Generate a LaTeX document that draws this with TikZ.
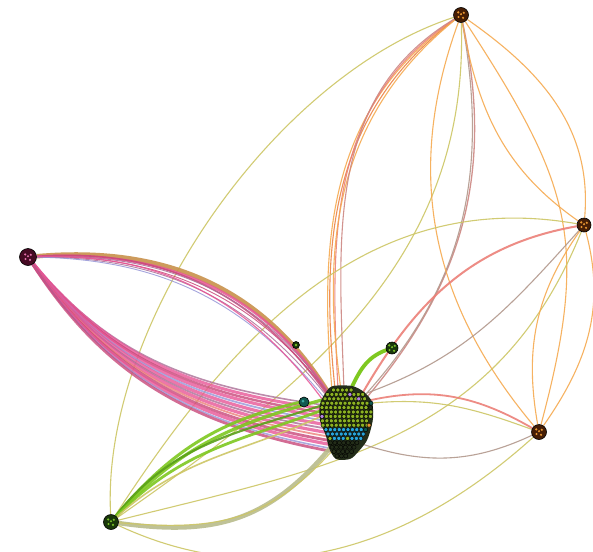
\documentclass[tikz,border=0pt]{standalone}
\pgfdeclarelayer{bg}
\pgfsetlayers{bg,main}
\definecolor{cOlive}{RGB}{205,198,100}
\definecolor{cOrange}{RGB}{246,170,80}
\definecolor{cOrangeD}{RGB}{236,132,70}
\definecolor{cSalmon}{RGB}{236,128,120}
\definecolor{cRose}{RGB}{205,135,130}
\definecolor{cGrayBr}{RGB}{178,152,140}
\definecolor{cPinkH}{RGB}{232,85,150}
\definecolor{cPinkD}{RGB}{200,72,122}
\definecolor{cMauve}{RGB}{170,110,150}
\definecolor{cLav}{RGB}{150,150,215}
\definecolor{cTan}{RGB}{200,145,75}
\definecolor{cGreen}{RGB}{126,200,32}
\definecolor{cGreenD}{RGB}{90,160,25}
\definecolor{cKhaki}{RGB}{185,188,140}
\definecolor{hubBrown}{RGB}{70,30,5}
\definecolor{hubMaroon}{RGB}{70,10,35}
\definecolor{hubGreen}{RGB}{25,55,10}
\definecolor{hubTeal}{RGB}{15,90,80}
\definecolor{dotO}{RGB}{232,150,50}
\definecolor{dotP}{RGB}{225,110,170}
\definecolor{dotG}{RGB}{120,190,40}
\definecolor{dotT}{RGB}{60,170,160}
\definecolor{cellG}{RGB}{140,178,35}
\definecolor{cellB}{RGB}{40,165,220}
\definecolor{cellK}{RGB}{35,45,25}
\definecolor{cellP}{RGB}{180,130,225}
\begin{document}
\begin{tikzpicture}[x=1pt,y=-1pt,
  edg/.style={line width=1.1pt,opacity=0.9},
  hub/.style={circle,draw=black,line width=0.6pt,minimum size=15pt,inner sep=0pt,fill=#1}]
\useasboundingbox (0,0) rectangle (593,551);
% hub nodes
\node[hub=hubBrown] (T) at (461,15) {};
\node[hub=hubBrown,minimum size=14pt] (R) at (584,225) {};
\node[hub=hubBrown] (LR) at (539,432) {};
\node[hub=hubMaroon,minimum size=17pt] (L) at (28,257) {};
\node[hub=hubGreen] (BL) at (111,522) {};
\node[hub=hubGreen,minimum size=12pt] (S1) at (392,348) {};
\node[hub=hubGreen,minimum size=7pt] (S2) at (296,345) {};
\node[hub=hubTeal,minimum size=10pt] (S3) at (304,402) {};
\foreach \n/\c in {T/dotO,R/dotO,LR/dotO,L/dotP,BL/dotG,S1/dotG}{
  \foreach \dx/\dy in {-2.5/-2,2/-2.8,0/0.8,-2.8/2.6,2.8/2.2}
    \fill[\c] ([shift={(\dx pt,\dy pt)}]\n.center) circle (1.2pt);
}
\fill[dotT] ([shift={(-1pt,1pt)}]S3.center) circle (1.5pt);
\fill[dotG] (S2.center) circle (1.4pt);
% cluster attachment points
\coordinate (ct1) at (332,390); \coordinate (ct2) at (335,389);
\coordinate (ct3) at (338,389); \coordinate (ct4) at (341,390);
\coordinate (ct5) at (344,390);
\coordinate (ctr) at (368,396); \coordinate (ctr2) at (366,394);
\coordinate (cr1) at (362,394); \coordinate (cr2) at (367,393);
\coordinate (ce1) at (371,400); \coordinate (ce2) at (372,403);
\coordinate (ce3) at (362,444);
\coordinate (cs) at (350,391);
\coordinate (ck) at (331,447); \coordinate (ck2) at (333,450);
\coordinate (cu1) at (328,392); \coordinate (cu2) at (330,395);
\coordinate (cu3) at (331,397); \coordinate (cu4) at (329,399);
\coordinate (cu5) at (327,401); \coordinate (cu6) at (325,403);
\coordinate (cu7) at (329,394); \coordinate (cu8) at (328,396);
\coordinate (cg1) at (306,401); \coordinate (cg2) at (322,400);
\coordinate (cg3) at (323,405); \coordinate (cg4) at (323,410);
\coordinate (cg5) at (324,415);
\foreach \i/\yy in {1/405,2/409,3/413,4/417,5/421,6/425,7/429,8/433,9/437,10/441,11/445,12/449,13/452}{
  \pgfmathsetmacro\xq{322+(\yy-400)*0.25}
  \coordinate (cl\i) at (\xq,\yy);
}
% cluster
\fill[cellK] plot[smooth cycle] coordinates {(333,386) (352,386) (364,392) (372,402) (373,418) (370,432) (366,442) (358,452) (350,459) (336,459) (329,448) (326,436) (320,420) (320,404) (326,392)};
\foreach \yy/\xa/\n/\cc in {390/333.5/4/cellG, 394.4/327.5/8/cellG, 398.8/325/9/cellG,
  403.2/323/10/cellG, 407.6/322/11/cellG, 412/322.5/11/cellG, 416.4/322/11/cellG,
  420.8/322.5/10/cellG, 425.2/323/10/cellG, 429.6/326/9/cellB, 434/328/8/cellB,
  438.4/330/7/cellB, 442.8/330.5/6/cellK, 447.2/332/5/cellK, 451.6/334/4/cellK, 456/337/2/cellK}{
  \foreach \k in {0,...,\n}{
    \pgfmathsetmacro\xx{\xa+4.4*\k}
    \filldraw[fill=\cc,draw=black,line width=0.4pt] (\xx,\yy) circle (2.05pt);
  }
}
\foreach \px/\py/\cc in {349.9/394.4/cellP,358.7/398.8/cellP,322/416.4/cellP,
  370.4/407.6/cellK,371/403.2/hubTeal,365.6/429.6/hubTeal,330/438.4/cellG,347.6/438.4/cellG,369/425.2/dotO}{
  \filldraw[fill=\cc,draw=black,line width=0.4pt] (\px,\py) circle (2.05pt);
}
\begin{pgfonlayer}{bg}
\fill[white] (0,0) rectangle (593,551);
% edges from T
\draw[edg,cOlive] (T) to[out=198,in=93,looseness=0.8] (BL);
\draw[edg,cOlive] (T) to[out=-88,in=35] (BL);
\foreach \o/\ia/\c/\p in {-145/95/cOrange/ct1,-143/96/cOrangeD/ct2,-147/93/cSalmon/ct3,-141/98/cOrange/ct4,-149/92/cRose/ct5}
  \draw[edg,\c] (T) to[out=\o,in=\ia] (\p);
\draw[edg,cRose,line width=1.3pt] (T) to[out=-78,in=50] (ctr);
\draw[edg,cGrayBr] (T) to[out=-80,in=48] (ctr2);
\draw[edg,cOrange] (T) to[out=250,in=130] (LR);
\draw[edg,cOrange] (T) to[out=-57,in=75,looseness=1.2] (LR);
\draw[edg,cOrange] (T) to[out=-35,in=85] (R);
\draw[edg,cOrange] (T) to[out=-80,in=145] (R);
% edges from R
\draw[edg,cOlive] (R) to[out=170,in=57] (BL);
\draw[edg,cOlive] (R) to[out=248,in=14,looseness=1.05] (BL);
\draw[edg,cSalmon,line width=2pt] (R) to[out=190,in=60] (cr1);
\draw[edg,cGrayBr] (R) to[out=228,in=20] (cr2);
\draw[edg,cOrange] (R) to[out=235,in=100] (LR);
\draw[edg,cOrange] (R) to[out=-75,in=55] (LR);
% bottom
\draw[edg,cOlive] (BL) to[out=-25,in=222] (LR);
\draw[edg,cOlive] (ce2) to[out=5,in=160] (LR);
\draw[edg,cSalmon,line width=1.8pt] (ce1) to[out=12,in=150] (LR);
\draw[edg,cGrayBr] (ce3) to[out=-18,in=205] (LR);
% L bundle
\draw[cTan,line width=4.5pt,opacity=0.9] (L) to[out=5,in=122] (cu1);
\foreach \o/\ia/\c/\p/\w in {3/123/cPinkH/cu7/2.4,4/125/cPinkD/cu8/1.6,2/125/cMauve/cu2/0.9,1/127/cPinkD/cu3/0.9,
  0/128/cMauve/cu4/0.9,-1/129/cLav/cu5/0.9,2/126/cPinkH/cu6/1.2}
  \draw[\c,line width=\w pt,opacity=0.85] (L) to[out=\o,in=\ia] (\p);
\foreach \i/\c/\w in {1/cMauve/1.6,2/cPinkH/3,3/cPinkD/2.4,4/cPinkH/3.2,5/cLav/1.8,6/cPinkH/3.2,7/cMauve/1.8,
  8/cPinkH/3.2,9/cSalmon/1.8,10/cPinkD/2.8,11/cPinkH/3.2,12/cLav/1.6,13/cPinkD/2.8}{
  \pgfmathsetmacro\oo{-50-0.6*(\i-1)}
  \pgfmathsetmacro\ii{172-0.2*(\i-1)}
  \draw[\c,line width=\w pt,opacity=0.8] (L) to[out=\oo,in=\ii] (cl\i);
}
% green bundle from BL
\foreach \o/\ia/\c/\p/\w in {50/192/cGreen/cg1/3,48/195/cGreen/cg2/3.2,52/198/cGreenD/cg3/2.2,
  46/200/cGreen/cg4/2.8,42/205/cOlive/cg5/1.6}
  \draw[\c,line width=\w pt,opacity=0.9] (BL) to[out=\o,in=\ia] (\p);
\draw[cKhaki,line width=4.5pt,opacity=0.9] (BL) to[out=-8,in=230,looseness=1.1] (ck);
\draw[edg,cOlive] (BL) to[out=-5,in=228,looseness=1.1] (ck2);
% S1
\draw[cGreen,line width=3.8pt,line cap=round] (S1) to[out=200,in=65] (cs);
\end{pgfonlayer}
\end{tikzpicture}
\end{document}
